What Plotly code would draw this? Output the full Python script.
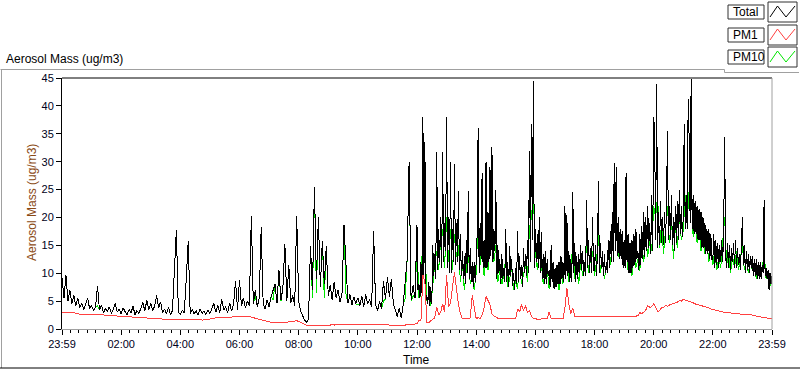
import plotly.graph_objects as go

# ---------------- data ----------------
# Total: 4-minute samples from 23:59 to 12:00, then 2-minute samples to 23:59
total_first_half = [
    9.2, 5.5, 9.7, 5.0, 7.0, 4.5, 6.0, 4.2, 5.5, 3.8, 4.6, 3.5, 4.4, 5.6, 3.6,
    4.2, 3.3, 4.0, 7.7, 3.4, 4.3, 2.9, 3.7, 3.1, 4.0, 2.8, 3.5, 4.6, 3.0, 3.6,
    2.7, 3.8, 3.1, 2.6, 3.5, 2.9, 4.1, 2.6, 3.3, 2.8, 3.7, 4.8, 3.2, 5.2, 3.4,
    4.6, 3.2, 4.2, 6.0, 3.8, 4.9, 2.9, 3.6, 2.7, 3.9, 2.6, 3.3, 10.6, 17.8, 3.0,
    2.6, 3.4, 2.9, 9.0, 15.8, 2.8, 3.5, 2.7, 3.3, 2.5, 3.6, 2.8, 3.2, 2.6, 3.4,
    2.8, 3.7, 4.6, 3.0, 4.2, 2.9, 5.3, 3.4, 4.0, 2.9, 4.7, 3.2, 4.4, 8.6, 3.5,
    8.8, 4.1, 5.6, 3.8, 5.0, 4.2, 20.3, 4.5, 7.0, 4.0, 5.5, 18.2, 4.6, 3.6, 5.2,
    4.0, 5.8, 7.0, 8.0, 4.6, 10.6, 5.2, 7.3, 15.3, 5.0, 11.5, 4.6, 6.0, 4.2, 20.3,
    5.0, 3.2, 2.5, 1.6, 1.2, 1.8, 14.8, 7.0, 25.4, 9.0, 20.0, 7.5, 15.8, 8.0, 14.8,
    6.0, 7.8, 5.2, 8.5, 5.6, 7.0, 4.8, 6.5, 18.7, 11.5, 4.6, 6.2, 4.3, 5.8, 4.5,
    5.6, 4.2, 5.9, 4.0, 6.2, 4.5, 5.3, 3.9, 17.5, 4.4, 3.3, 5.0, 3.6, 8.6, 5.4,
    9.3, 5.8, 9.0, 4.6, 3.2, 2.2, 3.8, 1.9, 4.4, 8.5, 12.5, 30.0, 5.2, 7.8, 5.5,
]
total_second_half = [
    18.7, 7.0, 8.0, 5.5, 12.0, 6.5, 38.0, 9.0, 33.5, 5.0, 6.0, 4.5, 8.5, 4.2, 7.5,
    4.5, 15.0, 9.5, 13.5, 9.0, 31.7, 10.5, 18.0, 12.0, 20.0, 11.0, 31.7, 12.0, 19.0, 14.0,
    38.0, 11.0, 20.0, 10.0, 30.0, 10.0, 18.0, 12.0, 29.5, 11.5, 19.0, 12.0, 24.7, 10.5, 17.0,
    9.5, 14.0, 9.0, 13.0, 8.0, 16.0, 10.0, 24.7, 9.0, 14.5, 8.5, 12.0, 7.5, 12.0, 8.5,
    12.0, 17.0, 36.0, 10.0, 19.0, 12.5, 28.0, 11.0, 16.0, 11.0, 30.0, 11.0, 21.0, 12.0, 29.0,
    13.0, 32.6, 12.0, 18.0, 14.0, 25.0, 9.0, 15.0, 10.0, 12.5, 8.0, 13.5, 9.0, 11.0, 8.5,
    18.0, 8.5, 12.0, 7.5, 14.8, 9.5, 12.5, 7.8, 10.0, 7.0, 11.0, 8.0, 17.5, 8.5, 13.0,
    9.0, 11.5, 7.5, 14.6, 10.0, 13.5, 9.5, 16.0, 10.0, 32.0, 12.0, 36.7, 16.0, 44.5, 11.0,
    18.0, 12.0, 17.0, 11.0, 20.0, 10.0, 17.3, 9.0, 13.5, 8.0, 14.0, 8.0, 12.5, 9.5, 10.5,
    7.5, 15.0, 8.5, 12.0, 7.2, 11.0, 7.5, 11.5, 8.0, 12.0, 8.0, 13.0, 9.0, 12.0, 8.5,
    22.0, 9.0, 20.5, 9.5, 14.0, 8.5, 12.5, 8.5, 24.5, 10.0, 15.5, 8.5, 13.0, 9.0, 13.5,
    10.0, 15.0, 10.5, 14.0, 9.5, 12.0, 9.5, 23.2, 11.0, 16.0, 10.0, 14.5, 10.0, 20.0, 10.5,
    10.5, 15.0, 9.5, 13.5, 26.6, 10.0, 15.5, 11.0, 14.0, 9.5, 13.5, 10.0, 12.0, 10.0, 16.0,
    11.0, 17.5, 12.0, 21.0, 12.0, 29.7, 14.0, 29.0, 13.0, 20.0, 12.5, 18.0, 12.5, 17.5, 11.0,
    16.0, 11.0, 28.0, 12.0, 17.0, 10.0, 15.5, 10.0, 16.0, 11.0, 17.0, 11.5, 18.0, 12.5, 14.0,
    10.5, 17.0, 11.5, 18.5, 12.5, 21.0, 13.0, 20.0, 14.0, 22.0, 14.5, 19.0, 13.5, 24.0, 14.0,
    38.0, 35.3, 16.0, 44.0, 14.5, 21.0, 15.0, 23.0, 15.5, 20.0, 15.0, 21.0, 15.5, 22.0, 35.5,
    16.0, 22.0, 16.0, 24.0, 15.0, 20.0, 14.0, 22.0, 15.5, 23.0, 16.0, 25.0, 17.0, 22.0, 16.5,
    20.0, 36.7, 18.0, 24.0, 18.0, 41.2, 34.0, 19.0, 44.8, 18.0, 24.0, 17.0, 23.0, 17.0, 22.0,
    16.0, 21.5, 16.0, 21.0, 14.5, 20.0, 14.5, 19.0, 13.5, 18.0, 13.5, 18.0, 12.5, 17.0, 12.5,
    12.5, 17.0, 11.0, 16.0, 11.5, 15.5, 11.0, 15.0, 12.0, 16.0, 12.0, 17.5, 34.5, 13.0, 11.0,
    15.5, 11.0, 15.0, 10.5, 14.5, 12.0, 15.5, 11.0, 16.0, 11.0, 14.5, 11.5, 13.5, 10.5, 14.0,
    20.0, 11.5, 15.0, 10.0, 14.0, 10.5, 13.5, 10.0, 13.0, 11.0, 13.0, 9.5, 12.5, 9.5, 12.5,
    9.0, 12.0, 9.0, 12.0, 9.0, 11.5, 10.0, 23.2, 9.5, 11.0, 9.0, 10.5, 7.0, 10.0, 8.0, 9.5,
]

# PM10 and PM1: 4-minute samples over the whole day
pm10 = [
    9.2, 5.5, 9.7, 5.0, 7.0, 4.5, 6.0, 4.2, 5.5, 3.8, 4.6, 3.5, 4.4, 5.6, 3.6,
    4.2, 3.3, 4.0, 4.2, 3.4, 4.3, 2.9, 3.7, 3.1, 4.0, 2.8, 3.5, 4.6, 3.0, 3.6,
    2.7, 3.8, 3.1, 2.6, 3.5, 2.9, 4.1, 2.6, 3.3, 2.8, 3.7, 4.8, 3.2, 5.2, 3.4,
    4.6, 3.2, 4.2, 6.0, 3.8, 4.9, 2.9, 3.6, 2.7, 3.9, 2.6, 3.3, 10.6, 17.8, 3.0,
    2.6, 3.4, 2.9, 9.0, 15.8, 2.8, 3.5, 2.7, 3.3, 2.5, 3.6, 2.8, 3.2, 2.6, 3.4,
    2.8, 3.7, 4.6, 3.0, 4.2, 2.9, 5.3, 3.4, 4.0, 2.9, 4.7, 3.2, 4.4, 8.6, 3.5,
    8.8, 4.1, 5.6, 3.8, 5.0, 4.2, 20.3, 4.5, 6.0, 4.0, 5.5, 18.2, 4.6, 3.6, 5.2,
    4.0, 5.8, 5.2, 8.0, 4.6, 10.6, 5.0, 7.3, 15.3, 5.0, 11.5, 4.6, 6.0, 4.2, 20.3,
    5.0, 3.2, 2.5, 1.6, 1.2, 1.8, 14.8, 5.5, 25.4, 6.5, 20.0, 7.5, 15.8, 5.5, 14.8,
    6.0, 7.8, 5.2, 8.5, 5.6, 7.0, 4.8, 6.5, 18.7, 6.2, 4.6, 6.2, 4.3, 5.8, 4.5,
    4.4, 4.2, 5.9, 4.0, 6.2, 4.5, 5.3, 3.9, 17.5, 4.4, 3.3, 5.0, 3.6, 5.0, 5.4,
    9.3, 5.8, 9.0, 4.6, 3.2, 2.2, 3.8, 1.9, 4.4, 5.5, 12.5, 30.0, 5.0, 6.0, 5.5,
    15.0, 5.5, 6.0, 19.0, 16.0, 5.0, 6.2, 4.2, 8.0, 11.5, 14.0, 10.5, 16.0, 18.0, 11.0,
    20.0, 12.0, 18.0, 10.5, 17.0, 13.0, 15.0, 8.5, 12.0, 7.0, 10.5, 14.0, 8.0, 10.0, 7.0,
    10.0, 20.0, 11.5, 17.0, 9.5, 19.0, 10.5, 17.5, 20.0, 12.0, 15.0, 8.5, 10.5, 8.0, 9.5,
    13.0, 7.5, 9.0, 11.0, 7.0, 8.5, 7.2, 12.0, 8.0, 10.0, 11.5, 8.5, 18.0, 20.0, 24.0,
    14.0, 10.5, 14.0, 12.0, 8.0, 10.5, 11.0, 7.2, 9.5, 11.5, 7.5, 10.0, 7.0, 10.5, 8.0,
    15.0, 13.0, 8.5, 11.0, 15.0, 9.0, 11.5, 8.0, 12.0, 9.5, 10.5, 15.0, 10.0, 12.5, 14.0,
    9.5, 12.0, 17.0, 10.0, 12.5, 9.0, 11.0, 13.5, 11.5, 16.0, 19.0, 18.0, 13.0, 15.0, 12.5,
    13.5, 18.0, 10.5, 13.5, 9.5, 14.0, 11.0, 12.5, 10.5, 15.0, 12.0, 16.5, 13.0, 16.0, 14.0,
    22.0, 20.0, 24.0, 14.5, 19.0, 13.5, 17.5, 22.0, 15.5, 20.0, 12.5, 18.5, 14.5, 20.5, 16.0,
    17.5, 24.0, 19.0, 25.0, 26.0, 16.5, 20.0, 15.5, 18.5, 14.0, 17.5, 13.5, 15.5, 12.0, 14.5,
    11.5, 14.0, 10.5, 13.0, 11.0, 15.0, 20.0, 11.5, 13.5, 10.0, 13.0, 11.0, 14.0, 10.5, 12.5,
    15.0, 10.5, 12.5, 10.0, 12.0, 10.5, 11.5, 9.0, 11.0, 9.5, 10.5, 14.0, 9.0, 10.0, 7.8, 9.3,
]

pm1 = [
    3.0, 3.0, 3.1, 3.0, 3.0, 3.0, 2.9, 2.8, 2.7, 2.7, 2.6, 2.6, 2.6, 2.6, 2.6,
    2.6, 2.6, 2.5, 2.6, 2.6, 2.5, 2.5, 2.5, 2.4, 2.4, 2.4, 2.4, 2.3, 2.3, 2.3,
    2.3, 2.2, 2.2, 2.2, 2.2, 2.1, 2.1, 2.2, 2.1, 2.1, 2.1, 2.0, 2.0, 2.0, 2.0,
    2.0, 2.0, 1.9, 1.9, 1.8, 1.8, 1.7, 1.7, 1.8, 1.7, 1.7, 1.8, 1.7, 1.8, 1.8,
    1.8, 1.8, 1.8, 1.7, 1.8, 1.8, 1.8, 1.8, 1.7, 1.7, 1.7, 1.6, 1.6, 1.6, 1.7,
    1.8, 1.9, 1.9, 2.0, 2.0, 2.1, 2.1, 2.1, 2.1, 2.2, 2.2, 2.1, 2.2, 2.2, 2.2,
    2.2, 2.3, 2.2, 2.2, 2.3, 2.2, 2.2, 2.1, 2.0, 1.8, 1.7, 1.6, 1.5, 1.4, 1.3,
    1.3, 1.2, 1.2, 1.2, 1.2, 1.1, 1.2, 1.2, 1.2, 1.2, 1.3, 1.3, 1.4, 1.4, 1.5,
    1.4, 1.2, 1.0, 0.8, 0.7, 0.7, 0.7, 0.6, 0.7, 0.6, 0.7, 0.7, 0.6, 0.7, 0.7,
    0.7, 0.7, 0.8, 0.7, 0.8, 0.8, 0.8, 0.8, 0.9, 0.8, 0.9, 0.9, 0.8, 0.9, 0.9,
    0.9, 0.9, 0.8, 0.9, 0.9, 0.9, 0.8, 0.9, 0.9, 0.8, 0.9, 0.9, 0.9, 0.8, 0.8,
    0.8, 0.7, 0.6, 0.6, 0.6, 0.6, 0.6, 0.6, 0.7, 0.7, 0.8, 0.8, 0.8, 0.8, 0.9,
    1.0, 1.5, 1.5, 9.7, 8.5, 1.2, 1.1, 1.5, 1.8, 2.0, 4.0, 2.5, 3.0, 4.5, 3.0,
    9.7, 4.0, 4.7, 8.0, 10.2, 7.2, 4.4, 2.7, 1.9, 1.9, 1.8, 1.9, 2.0, 6.0, 3.9,
    1.9, 2.0, 1.9, 2.5, 3.8, 5.8, 5.0, 4.4, 2.7, 2.3, 2.2, 1.9, 1.8, 1.8, 1.8,
    1.8, 1.7, 1.8, 1.8, 1.7, 1.8, 3.6, 3.0, 4.4, 3.3, 4.2, 3.0, 3.3, 2.3, 1.9,
    1.8, 1.8, 1.7, 1.8, 1.8, 1.8, 1.8, 3.1, 1.9, 1.8, 1.8, 1.8, 1.8, 1.7, 1.8,
    3.8, 7.4, 4.5, 2.7, 3.8, 2.3, 2.3, 2.2, 2.3, 2.3, 2.2, 2.3, 2.3, 2.2, 2.3,
    2.3, 2.2, 2.3, 2.3, 2.2, 2.3, 2.3, 2.3, 2.2, 2.3, 2.3, 2.3, 2.2, 2.3, 2.3,
    2.2, 2.2, 2.3, 2.2, 2.2, 2.2, 2.3, 2.4, 2.9, 2.8, 3.0, 3.4, 4.2, 3.9, 4.0,
    4.5, 4.0, 3.1, 3.3, 3.8, 3.9, 4.2, 4.1, 4.3, 4.4, 4.5, 4.6, 4.8, 5.1, 5.0,
    5.3, 5.2, 5.1, 4.9, 4.8, 4.7, 4.5, 4.4, 4.3, 4.3, 4.2, 4.1, 4.0, 3.8, 3.6,
    3.5, 3.4, 3.3, 3.2, 3.1, 3.1, 3.0, 2.9, 2.9, 2.9, 2.8, 2.8, 2.8, 2.7, 2.7,
    2.7, 2.7, 2.6, 2.6, 2.6, 2.5, 2.4, 2.3, 2.2, 2.2, 2.1, 2.0, 2.0, 1.9, 1.9, 1.9,
]

# sample times in hours after the start (23:59)
coarse_hours = [i * 4 / 60.0 for i in range(len(pm10))]
total_hours = ([i * 4 / 60.0 for i in range(len(total_first_half))]
               + [12 + i * 2 / 60.0 for i in range(len(total_second_half))])
total = total_first_half + total_second_half

x_tick_values = [0, 2, 4, 6, 8, 10, 12, 14, 16, 18, 20, 22, 24]
x_tick_labels = ["23:59", "02:00", "04:00", "06:00", "08:00", "10:00", "12:00",
                 "14:00", "16:00", "18:00", "20:00", "22:00", "23:59"]
y_tick_values = [0, 5, 10, 15, 20, 25, 30, 35, 40, 45]

series_names = ["Total", "PM1", "PM10"]
series_colors = {"Total": "#000000", "PM1": "#ff4040", "PM10": "#00e600"}

# ---------------- figure ----------------
W, H = 800, 369
L, R, T, B = 62, 28, 78, 40
PW, PH = W - L - R, H - T - B
FONT = "Liberation Sans, Arial, sans-serif"


def px(xp):
    return (xp - L) / PW


def py(yp):
    return (H - B - yp) / PH


fig = go.Figure()
fig.add_trace(go.Scatter(x=coarse_hours, y=pm10, mode="lines", name="PM10",
                         line=dict(color=series_colors["PM10"], width=1),
                         hoverinfo="skip"))
fig.add_trace(go.Scatter(x=total_hours, y=total, mode="lines", name="Total",
                         line=dict(color=series_colors["Total"], width=1),
                         hoverinfo="skip"))
fig.add_trace(go.Scatter(x=coarse_hours, y=pm1, mode="lines", name="PM1",
                         line=dict(color=series_colors["PM1"], width=1),
                         hoverinfo="skip"))

fig.update_layout(
    width=W, height=H,
    margin=dict(l=L, r=R, t=T, b=B, pad=0),
    paper_bgcolor="white", plot_bgcolor="white",
    showlegend=False,
    font=dict(family=FONT, size=11, color="#000000"),
)

fig.update_xaxes(
    range=[0, 24], tickvals=x_tick_values, ticktext=x_tick_labels,
    showgrid=False, zeroline=False,
    showline=True, linecolor="#a0a0a0", linewidth=1,
    ticks="outside", ticklen=5, tickcolor="#000000", tickwidth=1,
    tickfont=dict(family=FONT, size=11, color="#000020"),
    minor=dict(dtick=2 / 7, tick0=0, ticks="outside", ticklen=3,
               tickcolor="#000000", showgrid=False),
)
fig.update_yaxes(
    range=[0, 45], tickvals=y_tick_values,
    showgrid=False, zeroline=False,
    showline=True, linecolor="#000000", linewidth=1,
    ticks="outside", ticklen=5, tickcolor="#000000", tickwidth=1,
    tickfont=dict(family=FONT, size=11, color="#000020"),
)

shapes = []
shapes.append(dict(type="line", xref="paper", yref="paper", x0=0, x1=1, y0=1, y1=1,
                   line=dict(color="#000000", width=1)))
shapes.append(dict(type="line", xref="paper", yref="paper", x0=1, x1=1, y0=0, y1=1,
                   line=dict(color="#a0a0a0", width=1)))
panel_lines = [
    ((0.5, 69.5), (724.5, 69.5), "#a0a0a0"),
    ((724.5, 69.5), (724.5, 72.5), "#a0a0a0"),
    ((724.5, 72.5), (799, 72.5), "#a0a0a0"),
    ((1.5, 69.5), (1.5, 368), "#a0a0a0"),
    ((0, 368), (800, 368), "#000000"),
]
for (xa, ya), (xb, yb), c in panel_lines:
    shapes.append(dict(type="line", xref="paper", yref="paper",
                       x0=px(xa), x1=px(xb), y0=py(ya), y1=py(yb),
                       line=dict(color=c, width=1)))

legend_rows = [(2, 22), (25, 45), (47, 67)]
annotations = []
for name, (ya, yb) in zip(series_names, legend_rows):
    ym = (ya + yb) / 2
    shapes.append(dict(type="rect", xref="paper", yref="paper",
                       x0=px(728), x1=px(764), y0=py(ym - 7), y1=py(ym + 7),
                       line=dict(color="#303030", width=1), fillcolor="white"))
    shapes.append(dict(type="rect", xref="paper", yref="paper",
                       x0=px(768), x1=px(797), y0=py(ya), y1=py(yb),
                       line=dict(color="#303030", width=1), fillcolor="white"))
    pts = [(770, yb - 5), (777.5, ya + 4), (786, yb - 5), (795, ya + 4)]
    path = "M " + " L ".join(f"{px(a)},{py(b)}" for a, b in pts)
    shapes.append(dict(type="path", xref="paper", yref="paper", path=path,
                       line=dict(color=series_colors[name], width=1)))
    annotations.append(dict(text=name, xref="paper", yref="paper",
                            x=px(731), y=py(ym), xanchor="left", yanchor="middle",
                            showarrow=False,
                            font=dict(family=FONT, size=12, color="#000000")))

annotations.append(dict(text="Aerosol Mass (ug/m3)", xref="paper", yref="paper",
                        x=px(4), y=py(59), xanchor="left", yanchor="middle",
                        showarrow=False,
                        font=dict(family=FONT, size=12, color="#000000")))
annotations.append(dict(text="Aerosol Mass (ug/m3)", xref="paper", yref="paper",
                        x=px(32), y=py(203), xanchor="center", yanchor="middle",
                        textangle=-90, showarrow=False,
                        font=dict(family=FONT, size=12, color="#8a4a14")))
annotations.append(dict(text="Time", xref="paper", yref="paper",
                        x=px(416), y=py(360), xanchor="center", yanchor="middle",
                        showarrow=False,
                        font=dict(family=FONT, size=12, color="#000000")))

fig.update_layout(shapes=shapes, annotations=annotations)
fig.write_html("out.html",
               config={"displayModeBar": False},
               post_script="document.body.style.margin='0px';"
                           "document.body.style.padding='0px';"
                           "document.body.style.overflow='hidden';"
                           "document.querySelectorAll('.scatterlayer path.js-line')"
                           ".forEach(function(p){p.style.shapeRendering='crispEdges';});")
